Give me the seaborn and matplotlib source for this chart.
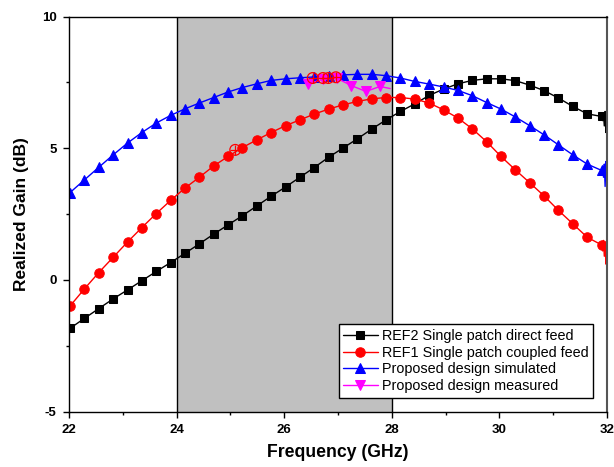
import numpy as np
import pandas as pd
import matplotlib
matplotlib.use("Agg")
import matplotlib.pyplot as plt
import seaborn as sns

# ---------------- data ----------------
freq_start = 22.02
freq_step = 0.267
n_pts = 38
freq = [round(freq_start + k * freq_step, 3) for k in range(n_pts)]

ref2_gain = [-1.84, -1.46, -1.09, -0.72, -0.38, -0.03, 0.32, 0.66, 1.01, 1.37,
             1.74, 2.09, 2.44, 2.81, 3.18, 3.53, 3.90, 4.27, 4.66, 5.01,
             5.36, 5.73, 6.08, 6.40, 6.69, 7.01, 7.25, 7.45, 7.58, 7.64,
             7.64, 7.57, 7.40, 7.19, 6.91, 6.59, 6.31, 6.21]
ref1_gain = [-0.99, -0.34, 0.28, 0.86, 1.44, 1.99, 2.52, 3.02, 3.49, 3.90,
             4.33, 4.69, 5.03, 5.32, 5.60, 5.86, 6.08, 6.30, 6.49, 6.65,
             6.78, 6.88, 6.93, 6.93, 6.87, 6.72, 6.46, 6.15, 5.74, 5.25,
             4.69, 4.18, 3.69, 3.19, 2.64, 2.13, 1.62, 1.33]
sim_gain = [3.32, 3.80, 4.28, 4.75, 5.20, 5.60, 5.96, 6.25, 6.50, 6.72,
            6.93, 7.14, 7.31, 7.45, 7.58, 7.64, 7.68, 7.71, 7.74, 7.79,
            7.81, 7.81, 7.76, 7.67, 7.54, 7.44, 7.33, 7.20, 7.00, 6.74,
            6.49, 6.19, 5.86, 5.51, 5.13, 4.75, 4.40, 4.16]

# noisy tails between last marker and 32 GHz (lines only)
tail_freq = [31.92, 31.935, 31.95, 31.965, 31.98, 31.99, 32.0]
ref2_tail = [6.05, 6.30, 5.85, 6.40, 5.60, 6.20, 6.65]
ref1_tail = [1.10, 1.50, 0.90, 1.40, 0.60, 1.20, 1.90]
sim_tail = [4.30, 3.90, 4.40, 3.55, 4.50, 4.00, 4.70]

meas_freq = [26.45, 26.72, 26.98, 27.25, 27.52, 27.78, 27.97]
meas_gain = [7.45, 7.62, 7.66, 7.38, 7.16, 7.35, 7.27]

# data-reader style crossed circles
cursor_freq = [25.09, 26.53, 26.72, 26.82, 26.96]
cursor_gain = [4.94, 7.67, 7.67, 7.67, 7.70]

labels = ["REF2 Single patch direct feed", "REF1 Single patch coupled feed",
          "Proposed design simulated", "Proposed design measured"]

band_lo, band_hi = 24, 28
x_ticks = [22, 24, 26, 28, 30, 32]
y_ticks = [-5, 0, 5, 10]

# ---------------- plot ----------------
sns.set_theme(style="white")
plt.rcParams["font.family"] = ["Liberation Sans", "DejaVu Sans"]
plt.rcParams["axes.unicode_minus"] = False
for k in ["text.color", "axes.labelcolor", "xtick.color", "ytick.color"]:
    plt.rcParams[k] = "black"

fig = plt.figure(figsize=(6.14, 4.67), dpi=100)
ax = fig.add_axes([69 / 614, 1 - 411.5 / 467, 538 / 614, 394.8 / 467])

ax.axvspan(band_lo, band_hi, facecolor="#c0c0c0", edgecolor="none", zorder=0)
ax.axvline(band_lo, color="black", lw=1.0, zorder=0.5)
ax.axvline(band_hi, color="black", lw=1.0, zorder=0.5)

series = [
    (ref2_gain, ref2_tail, "black", "s", 6.2),
    (ref1_gain, ref1_tail, "red", "o", 6.8),
    (sim_gain, sim_tail, "blue", "^", 7.2),
]
for (g, t, c, m, ms), lab in zip(series, labels[:3]):
    df = pd.DataFrame({"f": freq + tail_freq, "g": g + t})
    sns.lineplot(data=df, x="f", y="g", ax=ax, color=c, lw=1.0, marker=m,
                 markersize=ms, markeredgecolor=c, markerfacecolor=c,
                 markevery=list(range(n_pts)), label=lab, sort=False,
                 estimator=None)

dfm = pd.DataFrame({"f": meas_freq, "g": meas_gain})
sns.lineplot(data=dfm, x="f", y="g", ax=ax, color="magenta", lw=1.0,
             marker="v", markersize=7.2, markeredgecolor="magenta",
             markerfacecolor="magenta", markevery=list(range(len(meas_freq) - 1)),
             label=labels[3], sort=False, estimator=None)

ax.scatter(cursor_freq, cursor_gain, s=60, facecolors="none",
           edgecolors="red", linewidths=0.9, zorder=5)
ax.scatter(cursor_freq, cursor_gain, s=60, marker="+", color="red",
           linewidths=0.9, zorder=5)

ax.set_xlim(22, 32)
ax.set_ylim(-5, 10)
ax.set_xticks(x_ticks)
ax.set_yticks(y_ticks)
ax.set_xticks([23, 25, 27, 29, 31], minor=True)
ax.set_yticks([-2.5, 2.5, 7.5], minor=True)
ax.tick_params(which="both", direction="out", bottom=True, left=True,
               top=False, right=False, color="black")
ax.tick_params(which="major", length=4, width=1.0, labelsize=9.5, pad=5)
ax.tick_params(which="minor", length=2.5, width=1.0)
for lab in ax.get_xticklabels() + ax.get_yticklabels():
    lab.set_fontweight("bold")

for s in ["left", "bottom", "top"]:
    ax.spines[s].set_color("black")
    ax.spines[s].set_linewidth(1.0)
ax.spines["right"].set_color("#555555")
ax.spines["right"].set_linewidth(1.5)

ax.set_xlabel("Frequency (GHz)", fontsize=12.7, fontweight="bold", labelpad=6)
ax.set_ylabel("Realized Gain (dB)", fontsize=12.5, fontweight="bold", labelpad=9)

leg = ax.legend(loc="lower right", bbox_to_anchor=(0.974, 0.035), fontsize=10.4,
                frameon=True, fancybox=False, edgecolor="black",
                handlelength=2.4, labelspacing=0.2, borderpad=0.3,
                handletextpad=0.3, borderaxespad=0)
leg.get_frame().set_linewidth(1.0)
leg.get_frame().set_facecolor("white")
leg.get_frame().set_alpha(1)

fig.savefig("out.png", dpi=100)
